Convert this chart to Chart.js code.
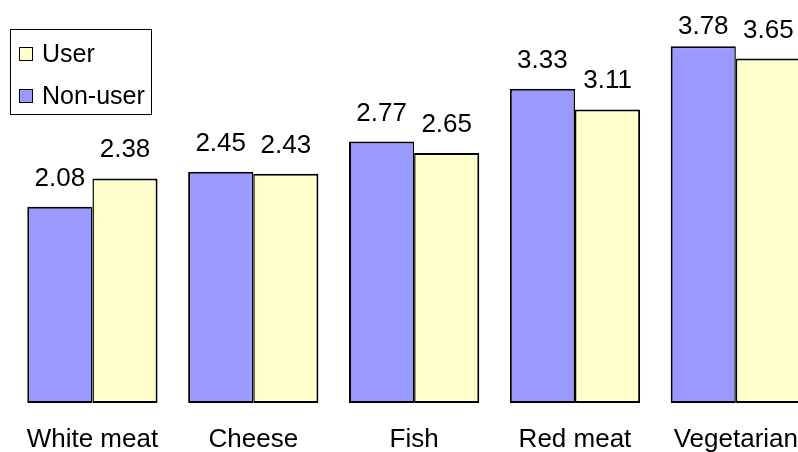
<!DOCTYPE html>
<html>
<head>
<meta charset="utf-8">
<script src="https://cdn.jsdelivr.net/npm/chart.js@4/dist/chart.umd.min.js"></script>
<style>
  html, body { margin: 0; padding: 0; background: #fff; overflow: hidden; }
  #wrap { width: 819px; height: 452px; }
</style>
</head>
<body>
<div id="wrap"><canvas id="c" width="819" height="452"></canvas></div>
<script>
const categories = ['White meat', 'Cheese', 'Fish', 'Red meat', 'Vegetarian'];
const nonUserValues = [2.08, 2.45, 2.77, 3.33, 3.78];
const userValues = [2.38, 2.43, 2.65, 3.11, 3.65];
const seriesNames = ['Non-user', 'User'];

const FONT = "'Liberation Sans', Arial, sans-serif";

const valueLabels = {
  id: 'valueLabels',
  afterDatasetsDraw(chart) {
    const ctx = chart.ctx;
    ctx.save();
    ctx.font = '26px ' + FONT;
    ctx.fillStyle = '#000';
    ctx.textAlign = 'center';
    ctx.textBaseline = 'alphabetic';
    chart.data.datasets.forEach((ds, di) => {
      const meta = chart.getDatasetMeta(di);
      meta.data.forEach((el, i) => {
        const y = Math.max(el.y - 21, chart.chartArea.top + 34);
        ctx.fillText(ds.data[i].toFixed(2), el.x, y);
      });
    });
    ctx.restore();
  }
};

const boxLegend = {
  id: 'boxLegend',
  afterDraw(chart) {
    const ctx = chart.ctx;
    ctx.save();
    ctx.fillStyle = '#fff';
    ctx.fillRect(10, 29, 142, 86);
    ctx.strokeStyle = '#000';
    ctx.lineWidth = 1;
    ctx.strokeRect(10.5, 29.5, 141, 85);
    const items = chart.data.datasets.slice().reverse();
    ctx.font = '25px ' + FONT;
    ctx.textAlign = 'left';
    ctx.textBaseline = 'alphabetic';
    items.forEach((ds, k) => {
      const base = 62 + k * 42;
      ctx.fillStyle = ds.backgroundColor;
      ctx.fillRect(19.5, base - 14.5, 13, 13);
      ctx.strokeStyle = '#000';
      ctx.strokeRect(19.5, base - 14.5, 13, 13);
      ctx.fillStyle = '#000';
      ctx.fillText(ds.label, 42, base);
    });
    ctx.restore();
  }
};

new Chart(document.getElementById('c'), {
  type: 'bar',
  data: {
    labels: categories,
    datasets: [
      {
        label: seriesNames[0],
        data: nonUserValues,
        backgroundColor: '#9999FF',
        borderColor: '#000',
        borderWidth: { left: 2, right: 1.5, top: 2, bottom: 2 },
        borderSkipped: false
      },
      {
        label: seriesNames[1],
        data: userValues,
        backgroundColor: '#FFFFCC',
        borderColor: '#000',
        borderWidth: { left: 1.5, right: 2, top: 2, bottom: 2 },
        borderSkipped: false
      }
    ]
  },
  options: {
    responsive: false,
    animation: false,
    devicePixelRatio: 1,
    layout: { padding: { left: 12, right: 0, top: 0, bottom: 0 } },
    categoryPercentage: 0.81,
    barPercentage: 1.0,
    plugins: {
      legend: { display: false },
      tooltip: { enabled: false }
    },
    scales: {
      x: {
        grid: { display: false, drawTicks: false },
        border: { display: false },
        ticks: {
          color: '#000',
          font: { family: FONT, size: 26 },
          padding: 21,
          maxRotation: 0,
          autoSkip: false
        },
        afterFit(scale) { scale.height = 49; }
      },
      y: {
        display: false,
        min: 0,
        max: 4.27
      }
    }
  },
  plugins: [valueLabels, boxLegend]
});
</script>
</body>
</html>
